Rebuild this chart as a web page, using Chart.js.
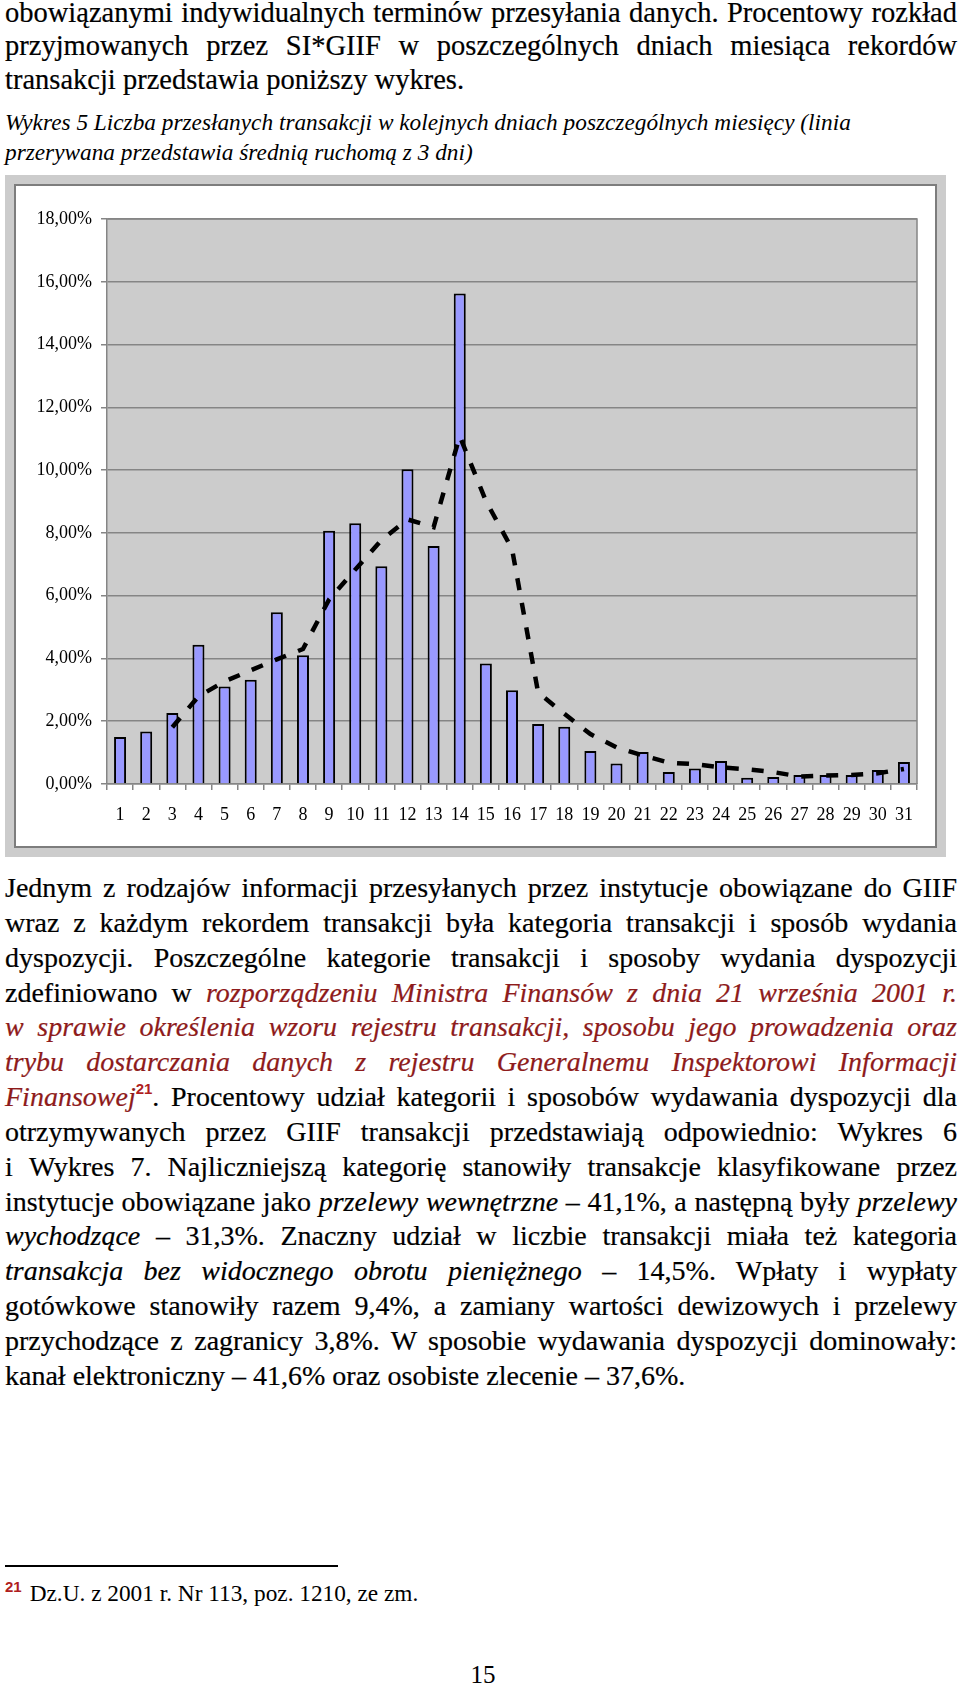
<!DOCTYPE html>
<html lang="pl">
<head>
<meta charset="utf-8">
<title>Wykres 5</title>
<script src="https://cdn.jsdelivr.net/npm/chart.js@4.4.1/dist/chart.umd.min.js"></script>
<style>
    html, body { margin: 0; padding: 0; background: #fff; }
    body {
        position: relative;
        width: 960px;
        height: 1687px;
        overflow: hidden;
        font-family: 'Liberation Serif', 'Times New Roman', serif;
        color: #000;
    }
    .blk { position: absolute; left: 5px; width: 952px; }
    .txt { font-size: 28px; -webkit-text-stroke: 0.2px #000; }
    .p1 { top: -4px; line-height: 33.3px; font-size: 28.5px; }
    .p2 { top: 871px; line-height: 34.85px; }
    .j { text-align: justify; text-align-last: justify; }
    .red { color: #8e1b1b; font-style: italic; -webkit-text-stroke: 0.2px #8e1b1b; }
    .caption { top: 107px; font-size: 23.3px; line-height: 30px; font-style: italic; }
    .fn-sup, .sup {
        font-family: 'Liberation Sans', Arial, sans-serif;
        font-weight: bold;
        color: #b01e1e;
        font-style: normal;
        line-height: 0;
        -webkit-text-stroke: 0;
    }
    .sup { font-size: 15px; vertical-align: 12px; }
    .fn-rule { position: absolute; left: 5px; top: 1565px; width: 333px; height: 2px; background: #000; }
    .footnote { top: 1580px; font-size: 23.3px; line-height: 27px; }
    .fn-sup { font-size: 15px; vertical-align: 9px; margin-right: 8px; }
    .pagenum { position: absolute; left: 0; width: 966px; top: 1661px; text-align: center; font-size: 25px; line-height: 28px; }

    .frame-outer { position: absolute; left: 5px; top: 175px; width: 941px; height: 682px; background: #cccccc; }
    .frame-inner {
        position: absolute; left: 14px; top: 184px; width: 923px; height: 664px;
        box-sizing: border-box; background: #fff; border: 2px solid #7d7d7d;
    }
    .chart-box { position: absolute; left: 0; top: 0; width: 919px; height: 660px; }
</style>
</head>
<body>

<div class="blk txt p1">
    <div class="j">obowiązanymi indywidualnych terminów przesyłania danych. Procentowy rozkład</div>
    <div class="j">przyjmowanych przez SI*GIIF w poszczególnych dniach miesiąca rekordów</div>
    <div>transakcji przedstawia poniższy wykres.</div>
</div>

<div class="blk caption">
    <div>Wykres 5 Liczba przesłanych transakcji w kolejnych dniach poszczególnych miesięcy (linia</div>
    <div>przerywana przedstawia średnią ruchomą z 3 dni)</div>
</div>

<div class="frame-outer"></div>
<div class="frame-inner">
    <div class="chart-box"><canvas id="dailyChart"></canvas></div>
</div>

<div class="blk txt p2">
    <div class="j">Jednym z rodzajów informacji przesyłanych przez instytucje obowiązane do GIIF</div>
    <div class="j">wraz z każdym rekordem transakcji była kategoria transakcji i sposób wydania</div>
    <div class="j">dyspozycji. Poszczególne kategorie transakcji i sposoby wydania dyspozycji</div>
    <div class="j">zdefiniowano w&nbsp;<span class="red">rozporządzeniu Ministra Finansów z dnia 21 września 2001 r.</span></div>
    <div class="j red">w sprawie określenia wzoru rejestru transakcji, sposobu jego prowadzenia oraz</div>
    <div class="j red">trybu dostarczania danych z rejestru Generalnemu Inspektorowi Informacji</div>
    <div class="j"><span class="red">Finansowej</span><span class="sup">21</span>. Procentowy udział kategorii i sposobów wydawania dyspozycji dla</div>
    <div class="j">otrzymywanych przez GIIF transakcji przedstawiają odpowiednio: Wykres 6</div>
    <div class="j">i&nbsp;Wykres 7. Najliczniejszą kategorię stanowiły transakcje klasyfikowane przez</div>
    <div class="j">instytucje obowiązane jako <i>przelewy wewnętrzne</i> – 41,1%, a następną były <i>przelewy</i></div>
    <div class="j"><i>wychodzące</i> – 31,3%. Znaczny udział w liczbie transakcji miała też kategoria</div>
    <div class="j"><i>transakcja bez widocznego obrotu pieniężnego</i> – 14,5%. Wpłaty i wypłaty</div>
    <div class="j">gotówkowe stanowiły razem 9,4%, a zamiany wartości dewizowych i przelewy</div>
    <div class="j">przychodzące z zagranicy 3,8%. W sposobie wydawania dyspozycji dominowały:</div>
    <div>kanał elektroniczny – 41,6% oraz osobiste zlecenie – 37,6%.</div>
</div>

<div class="fn-rule"></div>
<div class="blk footnote"><span class="fn-sup">21</span>Dz.U. z 2001 r. Nr 113, poz. 1210, ze zm.</div>

<div class="pagenum">15</div>

<script>
    // ========== DATA ==========
    const days = ['1', '2', '3', '4', '5', '6', '7', '8', '9', '10',
        '11', '12', '13', '14', '15', '16', '17', '18', '19', '20',
        '21', '22', '23', '24', '25', '26', '27', '28', '29', '30', '31'];

    // udział transakcji w danym dniu miesiąca (%)
    const dailyShare = [1.50, 1.67, 2.26, 4.44, 3.11, 3.32, 5.47, 4.10, 8.07, 8.31,
        6.94, 10.03, 7.58, 15.63, 3.84, 2.99, 1.91, 1.82, 1.05, 0.65,
        1.02, 0.38, 0.49, 0.73, 0.20, 0.22, 0.29, 0.29, 0.29, 0.45, 0.70];

    // średnia ruchoma z 3 dni (linia przerywana)
    const movingAvg = [null, null, 1.81, 2.79, 3.27, 3.62, 3.97, 4.30, 5.88, 6.83,
        7.77, 8.43, 8.18, 11.08, 9.02, 7.49, 2.91, 2.24, 1.59, 1.17,
        0.91, 0.68, 0.63, 0.53, 0.47, 0.38, 0.24, 0.27, 0.29, 0.34, 0.48];

    const yTicks = [0, 2, 4, 6, 8, 10, 12, 14, 16, 18];

    // ========== COLORS / FONTS ==========
    const colors = {
        bar: '#9999ff',
        barBorder: '#000000',
        line: '#000000',
        plot: '#cccccc',
        grid: '#858585',
        text: '#000000'
    };
    const tickFont = { family: "'Liberation Serif', 'Times New Roman', serif", size: 18 };

    // szare tło i ramka obszaru wykresu
    const plotArea = {
        id: 'plotArea',
        beforeDraw(chart) {
            const { ctx, chartArea: a } = chart;
            ctx.save();
            ctx.fillStyle = colors.plot;
            ctx.fillRect(a.left, a.top, a.right - a.left, a.bottom - a.top);
            ctx.restore();
        },
        afterDatasetsDraw(chart) {
            const { ctx, chartArea: a } = chart;
            ctx.save();
            ctx.strokeStyle = colors.grid;
            ctx.lineWidth = 1.5;
            ctx.beginPath();
            ctx.moveTo(a.left, a.top);
            ctx.lineTo(a.right, a.top);
            ctx.lineTo(a.right, a.bottom);
            ctx.stroke();
            ctx.restore();
        }
    };

    new Chart(document.getElementById('dailyChart'), {
        type: 'bar',
        data: {
            labels: days,
            datasets: [{
                type: 'line',
                label: 'Średnia ruchoma (3 dni)',
                data: movingAvg,
                borderColor: colors.line,
                borderWidth: 4.5,
                borderDash: [12, 13],
                pointRadius: 0,
                tension: 0,
                fill: false,
                order: 0
            }, {
                type: 'bar',
                label: 'Udział transakcji',
                data: dailyShare,
                backgroundColor: colors.bar,
                borderColor: colors.barBorder,
                borderWidth: 2,
                barPercentage: 0.46,
                categoryPercentage: 1,
                order: 1
            }]
        },
        options: {
            responsive: true,
            maintainAspectRatio: false,
            animation: false,
            layout: {
                padding: { top: 33, right: 18, bottom: 0, left: 0 }
            },
            plugins: {
                legend: { display: false },
                tooltip: { enabled: false }
            },
            scales: {
                x: {
                    afterFit: scale => { scale.height = 62; },
                    ticks: {
                        color: colors.text,
                        font: tickFont,
                        padding: 14,
                        maxRotation: 0,
                        autoSkip: false
                    },
                    grid: {
                        drawOnChartArea: false,
                        color: colors.grid,
                        lineWidth: 1.5,
                        tickLength: 6,
                        offset: true
                    },
                    border: { color: colors.grid, width: 1.5 }
                },
                y: {
                    min: 0,
                    max: 18,
                    afterFit: scale => { scale.width = 91; },
                    afterBuildTicks: scale => {
                        scale.ticks = yTicks.map(v => ({ value: v }));
                    },
                    ticks: {
                        color: colors.text,
                        font: tickFont,
                        padding: 9,
                        callback: value => value.toFixed(2).replace('.', ',') + '%'
                    },
                    grid: {
                        color: colors.grid,
                        lineWidth: 1.5,
                        tickLength: 6
                    },
                    border: { color: colors.grid, width: 1.5 }
                }
            }
        },
        plugins: [plotArea]
    });
</script>
</body>
</html>
